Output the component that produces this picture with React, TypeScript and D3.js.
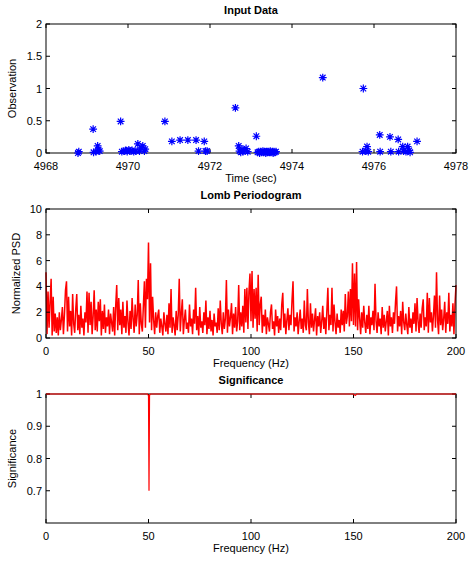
import React from 'react';
import * as d3 from 'd3';

// Input data (time in sec, observation)
const obsTime = [
  4968.78, 4968.80, 4969.15, 4969.16, 4969.22, 4969.26, 4969.28, 4969.31,
  4969.82, 4969.85, 4969.90, 4969.94, 4969.98, 4970.02, 4970.05, 4970.10,
  4970.14, 4970.19, 4970.24, 4970.28, 4970.32, 4970.36, 4970.40, 4970.42,
  4970.90, 4971.07, 4971.27, 4971.46, 4971.66, 4971.72, 4971.86, 4971.89,
  4971.93, 4972.62, 4972.70, 4972.72, 4972.75, 4972.78, 4972.80, 4972.84,
  4972.88, 4972.92, 4973.13, 4973.16, 4973.19, 4973.21, 4973.24, 4973.26,
  4973.29, 4973.31, 4973.33, 4973.36, 4973.38, 4973.40, 4973.42, 4973.45,
  4973.47, 4973.49, 4973.52, 4973.54, 4973.56, 4973.58, 4973.61, 4974.75,
  4975.74, 4975.72, 4975.80, 4975.83, 4975.86, 4976.14, 4976.15, 4976.39,
  4976.41, 4976.59, 4976.60, 4976.70, 4976.72, 4976.78, 4976.82, 4976.86,
  4976.88, 4977.05,
];
const obsValue = [
  0.00, 0.02, 0.37, 0.01, 0.02, 0.11, 0.05, 0.03,
  0.49, 0.02, 0.03, 0.04, 0.02, 0.05, 0.03, 0.04,
  0.02, 0.03, 0.14, 0.03, 0.08, 0.11, 0.03, 0.06,
  0.49, 0.18, 0.20, 0.20, 0.20, 0.03, 0.18, 0.03,
  0.03, 0.70, 0.11, 0.03, 0.01, 0.06, 0.02, 0.04,
  0.07, 0.02, 0.26, 0.01, 0.02, 0.00, 0.02, 0.01,
  0.03, 0.01, 0.02, 0.00, 0.02, 0.01, 0.02, 0.01,
  0.03, 0.01, 0.02, 0.00, 0.02, 0.01, 0.02, 1.17,
  1.00, 0.02, 0.03, 0.10, 0.02, 0.28, 0.02, 0.25,
  0.02, 0.21, 0.02, 0.10, 0.03, 0.02, 0.10, 0.04,
  0.01, 0.18,
];

// Lomb periodogram, normalized PSD every 0.5 Hz from 0 to 200 Hz
const psdStep = 0.5;
const psdValue = [
  5.1, 0.3, 3.6, 0.8, 2.8, 4.6, 0.2, 3.2, 0.5, 1.9,
  0.4, 1.6, 0.2, 2.0, 0.6, 1.4, 2.4, 0.3, 1.8, 3.7,
  4.4, 0.5, 3.2, 0.9, 2.1, 0.2, 3.4, 1.1, 0.4, 2.2,
  3.4, 0.6, 1.8, 0.3, 2.5, 0.8, 1.5, 0.2, 2.0, 1.2,
  3.6, 0.4, 3.5, 1.0, 2.8, 0.3, 1.7, 3.7, 0.6, 2.2,
  0.5, 2.8, 1.3, 3.0, 0.2, 2.1, 0.7, 2.6, 0.4, 1.6,
  0.9, 2.2, 0.3, 1.9, 1.2, 0.5, 2.4, 0.2, 2.5, 4.1,
  0.6, 3.1, 1.0, 2.2, 0.3, 2.8, 0.8, 1.7, 0.4, 2.9,
  1.2, 0.2, 2.1, 0.7, 3.1, 1.5, 0.4, 2.6, 0.9, 1.8,
  4.5, 0.3, 2.7, 1.1, 0.5, 2.5, 4.4, 0.8, 4.6, 3.0,
  7.4, 1.2, 5.8, 0.6, 3.2, 1.4, 0.3, 2.0, 0.8, 1.7,
  2.2, 0.4, 1.5, 0.9, 0.2, 2.0, 1.1, 0.5, 1.8, 0.3,
  2.7, 0.8, 3.8, 0.4, 1.6, 1.0, 0.2, 2.1, 0.6, 1.8,
  4.6, 0.5, 1.9, 3.0, 0.3, 1.4, 2.2, 0.7, 1.2, 0.4,
  2.6, 0.9, 1.5, 0.3, 2.2, 1.1, 3.9, 0.6, 1.7, 0.2,
  2.4, 0.8, 1.3, 0.4, 2.0, 1.0, 2.9, 0.3, 1.6, 0.7,
  2.1, 0.5, 1.4, 0.2, 1.9, 0.9, 1.2, 0.4, 2.3, 0.6,
  2.9, 1.1, 0.3, 2.0, 0.7, 1.5, 4.5, 0.4, 2.2, 0.9,
  1.6, 2.7, 0.3, 1.9, 0.8, 2.4, 0.5, 1.3, 4.1, 0.6,
  2.0, 0.9, 2.5, 0.4, 3.8, 1.2, 3.9, 0.7, 3.6, 5.0,
  1.3, 5.2, 0.8, 3.8, 1.5, 3.9, 0.5, 4.9, 1.0, 2.6,
  3.2, 0.4, 1.8, 0.9, 2.2, 0.3, 1.6, 1.1, 0.5, 2.0,
  2.6, 0.7, 1.3, 0.2, 2.2, 0.9, 1.7, 0.4, 1.5, 0.6,
  2.6, 3.5, 0.8, 1.9, 0.3, 1.4, 2.3, 0.6, 1.8, 1.0,
  2.9, 4.4, 0.5, 1.6, 0.9, 2.0, 0.3, 1.3, 2.2, 0.7,
  1.5, 0.4, 2.9, 1.0, 0.6, 3.8, 1.2, 0.3, 2.7, 0.8,
  1.9, 0.5, 1.4, 2.3, 0.2, 1.7, 0.9, 2.0, 0.4, 1.3,
  2.5, 0.7, 1.6, 0.3, 2.1, 3.9, 0.6, 1.8, 1.0, 3.9,
  0.5, 2.6, 1.2, 0.3, 1.9, 0.8, 1.4, 0.4, 2.2, 1.0,
  2.1, 0.5, 3.4, 1.1, 1.7, 3.6, 0.9, 3.8, 1.3, 5.8,
  1.0, 5.0, 0.9, 5.9, 0.6, 3.0, 1.5, 0.3, 2.0, 0.8,
  2.5, 1.2, 0.4, 1.8, 0.7, 2.5, 0.3, 1.6, 1.0, 2.1,
  0.6, 4.2, 1.3, 0.4, 2.0, 0.9, 1.5, 0.3, 2.4, 0.8,
  1.8, 0.5, 1.3, 2.1, 0.2, 2.5, 0.9, 1.6, 0.4, 2.0,
  1.1, 2.8, 4.0, 0.5, 1.7, 0.9, 2.1, 0.3, 2.8, 1.2,
  0.6, 1.9, 1.0, 0.3, 2.4, 0.8, 1.5, 0.4, 2.0, 1.1,
  2.7, 0.5, 3.1, 1.3, 0.4, 1.9, 0.8, 2.3, 3.0, 0.6,
  1.6, 0.9, 3.5, 0.4, 3.1, 1.2, 2.0, 0.5, 1.7, 3.3,
  0.8, 5.1, 1.4, 0.3, 3.3, 1.0, 2.2, 0.6, 1.5, 2.8,
  0.4, 2.0, 1.1, 3.5, 0.5, 1.8, 0.9, 2.7, 0.3, 2.6,
  4.1,
];

// Significance
const sigFreq = [0, 49.5, 50.0, 50.25, 50.5, 51.0, 150.0, 150.5, 151.0, 151.5, 200];
const sigValue = [1, 1, 0.995, 0.70, 0.996, 1, 1, 0.997, 0.996, 1, 1];

const xTicksTime = [4968, 4970, 4972, 4974, 4976, 4978];
const yTicksObs = [0, 0.5, 1, 1.5, 2];
const xTicksFreq = [0, 50, 100, 150, 200];
const yTicksPsd = [0, 2, 4, 6, 8, 10];
const yTicksSig = [0.7, 0.8, 0.9, 1];

const W = 469;
const H = 562;
const LEFT = 46;
const RIGHT = 456;
const FONT = '"Liberation Sans", Arial, Helvetica, sans-serif';
const TICK = 4;

type PanelProps = {
  top: number;
  bottom: number;
  title: string;
  xLabel: string;
  yLabel: string;
  yLabelX: number;
  x: d3.ScaleLinear<number, number>;
  y: d3.ScaleLinear<number, number>;
  xTicks: number[];
  yTicks: number[];
  children?: React.ReactNode;
  overlay?: React.ReactNode;
};

const Panel = ({ top, bottom, title, xLabel, yLabel, yLabelX, x, y, xTicks, yTicks, children, overlay }: PanelProps) => {
  const cx = (LEFT + RIGHT) / 2;
  return (
    <g>
      <rect x={LEFT} y={top} width={RIGHT - LEFT} height={bottom - top} fill="#fff" />
      {children}
      <rect x={LEFT} y={top} width={RIGHT - LEFT} height={bottom - top} fill="none" stroke="#000" strokeWidth={1} />
      {xTicks.map((t) => (
        <g key={'x' + t}>
          <line x1={x(t)} x2={x(t)} y1={bottom} y2={bottom - TICK} stroke="#000" />
          <line x1={x(t)} x2={x(t)} y1={top} y2={top + TICK} stroke="#000" />
          <text x={x(t)} y={bottom + 17} textAnchor="middle" fontSize={11} fill="#000">{t}</text>
        </g>
      ))}
      {yTicks.map((t) => (
        <g key={'y' + t}>
          <line x1={LEFT} x2={LEFT + TICK} y1={y(t)} y2={y(t)} stroke="#000" />
          <line x1={RIGHT} x2={RIGHT - TICK} y1={y(t)} y2={y(t)} stroke="#000" />
          <text x={LEFT - 4} y={y(t) + 4} textAnchor="end" fontSize={11} fill="#000">{t}</text>
        </g>
      ))}
      {overlay}
      <text x={cx} y={top - 10} textAnchor="middle" fontSize={11} fontWeight="bold" fill="#000">{title}</text>
      <text x={cx} y={bottom + 29} textAnchor="middle" fontSize={11} fill="#000">{xLabel}</text>
      <text
        transform={`translate(${yLabelX},${(top + bottom) / 2}) rotate(-90)`}
        textAnchor="middle"
        fontSize={11}
        fill="#000"
      >
        {yLabel}
      </text>
    </g>
  );
};

const starPath = (r: number) => {
  const d = r * 0.72;
  return `M${-r},0L${r},0M0,${-r}L0,${r}M${-d},${-d}L${d},${d}M${-d},${d}L${d},${-d}`;
};

export default function App() {
  // Panel 1
  const x1 = d3.scaleLinear().domain([4968, 4978]).range([LEFT, RIGHT]);
  const y1 = d3.scaleLinear().domain([0, 2]).range([153, 24]);

  // Panel 2
  const x2 = d3.scaleLinear().domain([0, 200]).range([LEFT, RIGHT]);
  const y2 = d3.scaleLinear().domain([0, 10]).range([338, 209]);
  const psdLine = d3
    .line<number>()
    .x((_, i) => x2(i * psdStep))
    .y((d) => y2(d));

  // Panel 3
  const x3 = d3.scaleLinear().domain([0, 200]).range([LEFT, RIGHT]);
  const y3 = d3.scaleLinear().domain([0.6, 1]).range([523, 394]);
  const sigLine = d3
    .line<number>()
    .x((_, i) => x3(sigFreq[i]))
    .y((d) => y3(d));

  const star = starPath(3.9);

  return (
    <svg
      width={W}
      height={H}
      style={{ position: 'absolute', left: 0, top: 0, display: 'block', background: '#fff' }}
      fontFamily={FONT}
    >
      <rect x={0} y={0} width={W} height={H} fill="#fff" />

      <Panel
        top={24}
        bottom={153}
        title="Input Data"
        xLabel="Time (sec)"
        yLabel="Observation"
        yLabelX={16}
        x={x1}
        y={y1}
        xTicks={xTicksTime}
        yTicks={yTicksObs}
        overlay={
          <g stroke="#0000ff" strokeWidth={1.2} fill="none">
            {obsTime.map((t, i) => (
              <path key={i} d={star} transform={`translate(${x1(t)},${y1(obsValue[i])})`} />
            ))}
          </g>
        }
      />

      <Panel
        top={209}
        bottom={338}
        title="Lomb Periodogram"
        xLabel="Frequency (Hz)"
        yLabel="Normalized PSD"
        yLabelX={20}
        x={x2}
        y={y2}
        xTicks={xTicksFreq}
        yTicks={yTicksPsd}
      >
        <path d={psdLine(psdValue) ?? ''} fill="none" stroke="#ff0000" strokeWidth={1.5} strokeLinejoin="miter" strokeMiterlimit={2} />
      </Panel>

      <Panel
        top={394}
        bottom={523}
        title="Significance"
        xLabel="Frequency (Hz)"
        yLabel="Significance"
        yLabelX={16}
        x={x3}
        y={y3}
        xTicks={xTicksFreq}
        yTicks={yTicksSig}
        overlay={<path d={sigLine(sigValue) ?? ''} fill="none" stroke="#ff0000" strokeWidth={1.2} />}
      />
    </svg>
  );
}
